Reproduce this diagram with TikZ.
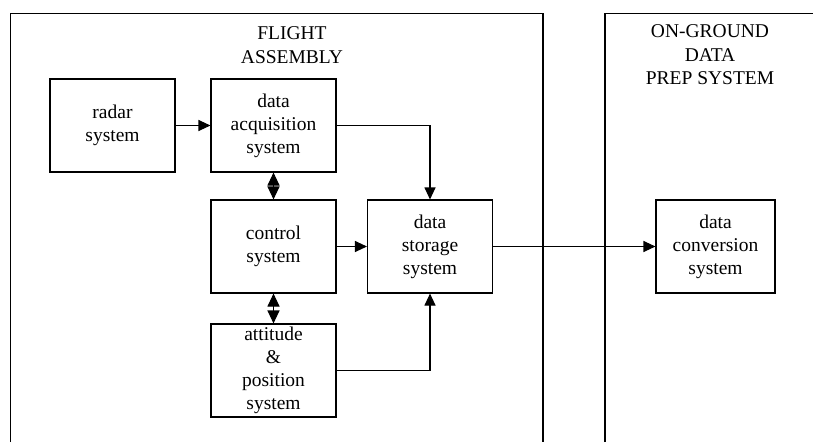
\documentclass[tikz,border=0pt]{standalone}
\usepackage{fontspec}
\setmainfont{Liberation Serif}
\usetikzlibrary{arrows.meta}
\begin{document}
\begin{tikzpicture}[x=1pt,y=-1pt,
  box/.style={draw,line width=1.1pt,minimum width=125pt,minimum height=93pt,inner sep=0pt,align=center,font=\fontsize{19.5}{23}\selectfont},
  title/.style={align=center,font=\fontsize{19.5}{23.5}\selectfont},
  conn/.style={line width=1.1pt,-{Triangle[length=12pt,width=11pt]}},
  dconn/.style={line width=1.1pt,{Triangle[length=13pt,width=12pt]}-{Triangle[length=13pt,width=12pt]}},
  frame/.style={line width=1.1pt}]
\useasboundingbox (0,0) rectangle (813,442);
% frames
\coordinate (fl1) at (10.5,442);
\coordinate (fl2) at (10.5,13.5);
\coordinate (fl3) at (543,13.5);
\coordinate (fl4) at (543,442);
\draw[frame] (fl1) -- (fl2) -- (fl3) -- (fl4);
\coordinate (gr1) at (605,442);
\coordinate (gr2) at (605,13.5);
\coordinate (gr3) at (813,13.5);
\draw[frame] (gr1) -- (gr2) -- (gr3);
% titles
\node[title] (t1) at (292,45) {FLIGHT\\ASSEMBLY};
\node[title] (t2) at (710,55) {ON-GROUND\\DATA\\PREP SYSTEM};
% boxes
\node[box] (radar) at (112.5,125.5) {radar\\system};
\node[box] (daq) at (273.5,125.5) {data\\acquisition\\system};
\node[box] (ctrl) at (273.5,246.5) {control\\system};
\node[box] (att) at (273.5,370.5) {attitude\\\&\\position\\system};
\node[box] (stor) at (430,246.5) {data\\storage\\system};
\node[box,minimum width=119pt] (conv) at (715.5,246.5) {data\\conversion\\system};
% connectors
\draw[conn] (radar) -- (daq);
\draw[conn] (daq.east) -| (stor.north);
\draw[conn] (ctrl) -- (stor);
\draw[conn] (att.east) -| (stor.south);
\draw[conn] (stor) -- (conv);
\draw[dconn] (daq) -- (ctrl);
\draw[dconn] (ctrl) -- (att);
\end{tikzpicture}
\end{document}
